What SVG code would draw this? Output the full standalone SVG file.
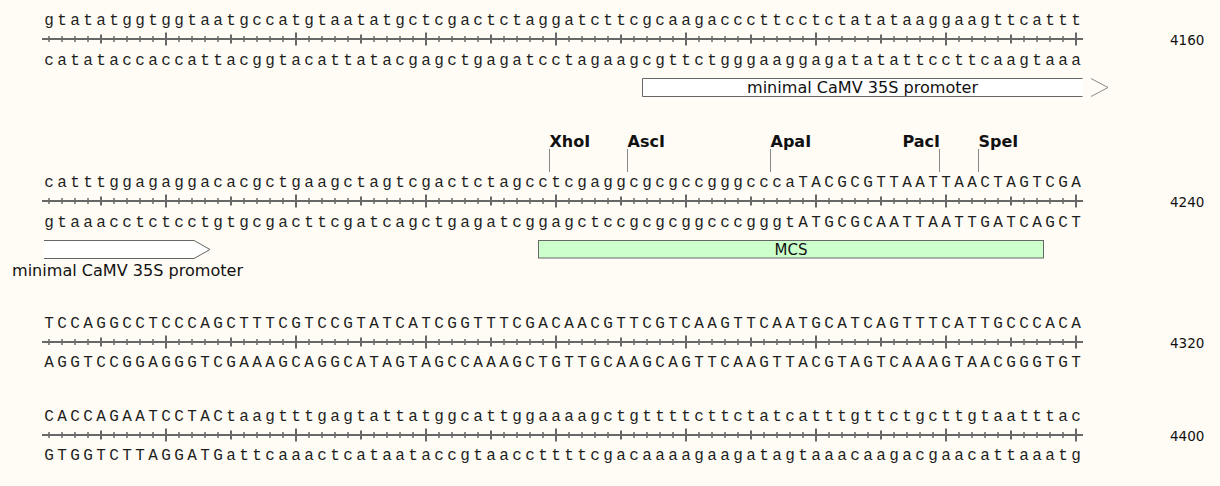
<svg xmlns="http://www.w3.org/2000/svg" width="1220" height="486" viewBox="0 0 1220 486">
<style>
.seq{font-family:"Liberation Mono","DejaVu Sans Mono",monospace;font-size:16px;letter-spacing:3.4px;fill:#1e1e1e}
.num{font-family:"DejaVu Sans",Verdana,sans-serif;font-size:13.5px;fill:#111}
.enz{font-family:"DejaVu Sans",Verdana,sans-serif;font-size:16px;font-weight:bold;fill:#111}
.flab{font-family:"DejaVu Sans",Verdana,sans-serif;font-size:16px;fill:#111}
.mcs{font-family:"DejaVu Sans",Verdana,sans-serif;font-size:15px;fill:#111}
.rl{stroke:#686868;stroke-width:2;fill:none}
.tk{stroke:#686868;stroke-width:1.5;fill:none}
.tkb{stroke:#686868;stroke-width:2;fill:none}
.lead{stroke:#888;stroke-width:1;fill:none}
.feat{stroke:#666;stroke-width:1}
</style>
<defs>
<g id="ruler">
<path class="rl" d="M42 0H1083"/>
<path class="tk" d="M49-3v6M62-3v6M75-3v6M88-3v6M114-3v6M127-3v6M140-3v6M153-3v6M179-3v6M192-3v6M205-3v6M218-3v6M244-3v6M257-3v6M270-3v6M283-3v6M309-3v6M322-3v6M335-3v6M348-3v6M374-3v6M387-3v6M400-3v6M413-3v6M439-3v6M452-3v6M465-3v6M478-3v6M504-3v6M517-3v6M530-3v6M543-3v6M569-3v6M582-3v6M595-3v6M608-3v6M634-3v6M647-3v6M660-3v6M673-3v6M699-3v6M712-3v6M725-3v6M738-3v6M764-3v6M777-3v6M790-3v6M803-3v6M829-3v6M842-3v6M855-3v6M868-3v6M894-3v6M907-3v6M920-3v6M933-3v6M959-3v6M972-3v6M985-3v6M998-3v6M1024-3v6M1037-3v6M1050-3v6M1063-3v6"/>
<path class="tkb" d="M101-4.5v9M231-4.5v9M361-4.5v9M491-4.5v9M621-4.5v9M751-4.5v9M881-4.5v9M1011-4.5v9"/>
<path class="tkb" d="M166-6.5v13M296-6.5v13M426-6.5v13M556-6.5v13M686-6.5v13M816-6.5v13M946-6.5v13M1076-6.5v13"/>
</g>
</defs>
<rect width="1220" height="486" fill="#FFFCF5"/>

<g id="line1">
<text class="seq" x="44.2" y="24.5">gtatatggtggtaatgccatgtaatatgctcgactctaggatcttcgcaagacccttcctctatataaggaagttcattt</text>
<use href="#ruler" transform="translate(0,39)"/>
<text class="seq" x="44.2" y="64.5">catataccaccattacggtacattatacgagctgagatcctagaagcgttctgggaaggagatatattccttcaagtaaa</text>
<text class="num" x="1170" y="45">4160</text>
</g>

<g id="promoter1">
<path class="feat" d="M1082.5 78.5H642.5V96.5H1082.5" fill="#fff"/>
<polyline points="1091,78.5 1108,87.5 1091,96.5" fill="none" stroke="#8a8a8a" stroke-width="1"/>
<text class="flab" x="862.5" y="93" text-anchor="middle" textLength="231" lengthAdjust="spacingAndGlyphs">minimal CaMV 35S promoter</text>
</g>

<g id="line2">
<text class="seq" x="44.2" y="186.5">catttggagaggacacgctgaagctagtcgactctagcctcgaggcgcgccgggcccaTACGCGTTAATTAACTAGTCGA</text>
<use href="#ruler" transform="translate(0,201)"/>
<text class="seq" x="44.2" y="226.5">gtaaacctctcctgtgcgacttcgatcagctgagatcggagctccgcgcggcccgggtATGCGCAATTAATTGATCAGCT</text>
<text class="num" x="1170" y="207">4240</text>
</g>

<g id="XhoI"><text class="enz" x="549.5" y="147">XhoI</text></g>
<g id="AscI"><text class="enz" x="627.5" y="147">AscI</text></g>
<g id="ApaI"><text class="enz" x="770.5" y="147">ApaI</text></g>
<g id="PacI"><text class="enz" x="940" y="147" text-anchor="end">PacI</text></g>
<g id="SpeI"><text class="enz" x="978.5" y="147">SpeI</text></g>

<g id="connectors">
<path class="lead" d="M549.5 149V172M627.5 149V172M770.5 149V172M939.5 149V172M978.5 149V172"/>
</g>

<g id="promoter2">
<path class="feat" d="M44 240.5H194L210 249.5L194 258.5H44" fill="#fff" stroke="#777"/>
<text class="flab" x="127.5" y="275.5" text-anchor="middle" textLength="231" lengthAdjust="spacingAndGlyphs">minimal CaMV 35S promoter</text>
</g>

<g id="MCS">
<rect class="feat" x="538.5" y="240.5" width="505" height="17.5" fill="#CCFFCC"/>
<text class="mcs" x="791" y="255" text-anchor="middle">MCS</text>
</g>

<g id="line3">
<text class="seq" x="44.2" y="327.5">TCCAGGCCTCCCAGCTTTCGTCCGTATCATCGGTTTCGACAACGTTCGTCAAGTTCAATGCATCAGTTTCATTGCCCACA</text>
<use href="#ruler" transform="translate(0,342)"/>
<text class="seq" x="44.2" y="367">AGGTCCGGAGGGTCGAAAGCAGGCATAGTAGCCAAAGCTGTTGCAAGCAGTTCAAGTTACGTAGTCAAAGTAACGGGTGT</text>
<text class="num" x="1170" y="348">4320</text>
</g>

<g id="line4">
<text class="seq" x="44.2" y="420.5">CACCAGAATCCTACtaagtttgagtattatggcattggaaaagctgttttcttctatcatttgttctgcttgtaatttac</text>
<use href="#ruler" transform="translate(0,435)"/>
<text class="seq" x="44.2" y="460">GTGGTCTTAGGATGattcaaactcataataccgtaaccttttcgacaaaagaagatagtaaacaagacgaacattaaatg</text>
<text class="num" x="1170" y="441">4400</text>
</g>
</svg>
